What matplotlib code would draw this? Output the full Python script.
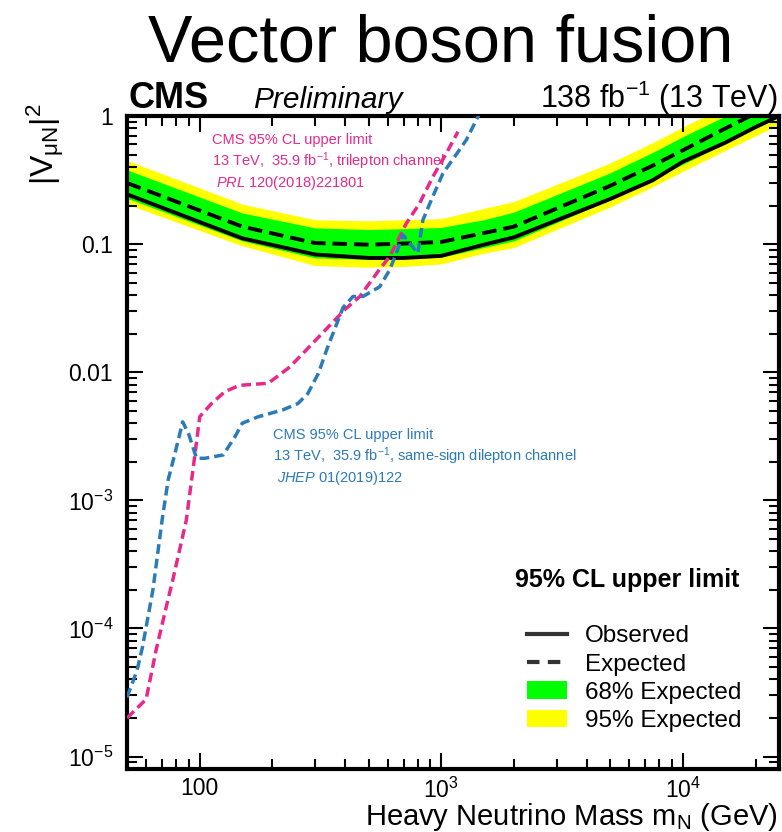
import matplotlib
matplotlib.use('Agg')
import matplotlib.pyplot as plt
from matplotlib.lines import Line2D
from matplotlib.patches import Patch
from matplotlib.ticker import LogLocator, NullFormatter

plt.rcParams['font.family'] = ['Liberation Sans', 'DejaVu Sans']
plt.rcParams['mathtext.fontset'] = 'custom'
plt.rcParams['mathtext.rm'] = 'Liberation Sans'
plt.rcParams['mathtext.it'] = 'Liberation Sans:italic'
plt.rcParams['mathtext.bf'] = 'Liberation Sans:bold'
plt.rcParams['lines.scale_dashes'] = False

# VBF limit on |V_muN|^2 vs heavy neutrino mass (GeV)
mass = [50, 150, 300, 500, 700, 1000, 1500, 2000, 5000, 7500, 10000, 15000, 20000, 25000]
observed = [0.245, 0.111, 0.083, 0.078, 0.078, 0.081, 0.099, 0.113, 0.225, 0.315, 0.44, 0.62, 0.82, 1.0]
expected = [0.30, 0.137, 0.102, 0.099, 0.101, 0.104, 0.122, 0.137, 0.285, 0.41, 0.54, 0.80, 1.05, 1.3]
band68_up = [0.38, 0.175, 0.134, 0.13, 0.132, 0.135, 0.155, 0.178, 0.36, 0.52, 0.69, 1.0, 1.3, 1.6]
band68_dn = [0.228, 0.106, 0.078, 0.076, 0.077, 0.079, 0.094, 0.106, 0.222, 0.32, 0.42, 0.61, 0.80, 0.98]
band95_up = [0.45, 0.205, 0.155, 0.152, 0.155, 0.158, 0.19, 0.215, 0.43, 0.62, 0.82, 1.2, 1.55, 1.9]
band95_dn = [0.205, 0.097, 0.068, 0.066, 0.067, 0.070, 0.085, 0.094, 0.195, 0.28, 0.37, 0.54, 0.70, 0.86]

# older 35.9 fb-1 results
tri_mass = [50, 60, 66, 74, 77, 88, 94, 100, 112, 127, 146, 192, 218, 236, 276, 400, 460, 550, 611, 672, 716, 813, 923, 1049, 1172]
tri_limit = [2.0e-5, 2.8e-5, 6.8e-5, 1.7e-4, 2.3e-4, 7.0e-4, 1.8e-3, 4.5e-3, 5.7e-3, 7.05e-3, 7.9e-3, 8.2e-3,
             9.8e-3, 0.011, 0.0149, 0.031, 0.039, 0.062, 0.080, 0.114, 0.145, 0.208, 0.336, 0.511, 0.754]
ss_mass = [50, 55, 58, 64, 70, 74, 79, 85, 90, 97, 105, 125, 140, 150, 175, 220, 255, 280, 310, 335, 392, 431,
           474, 556, 611, 651, 694, 800, 839, 909, 1016, 1136, 1269, 1396, 1500]
ss_limit = [2.9e-5, 4.7e-5, 7.2e-5, 2.0e-4, 7.2e-4, 1.44e-3, 2.33e-3, 4.1e-3, 3.3e-3, 2.13e-3, 2.13e-3, 2.26e-3,
            3.14e-3, 4.0e-3, 4.5e-3, 5.07e-3, 5.7e-3, 6.8e-3, 9.8e-3, 0.0149, 0.032, 0.039, 0.039, 0.0465,
            0.0628, 0.0848, 0.118, 0.0848, 0.154, 0.221, 0.357, 0.481, 0.65, 0.93, 1.22]

xticks = [100, 1000, 10000]
xticklabels = ['100', r'10$^{3}$', r'10$^{4}$']
yticks = [1e-5, 1e-4, 1e-3, 1e-2, 1e-1, 1]
yticklabels = [r'10$^{-5}$', r'10$^{-4}$', r'10$^{-3}$', '0.01', '0.1', '1']

PINK = '#e7298a'
BLUE = '#2b7bb9'

W, H = 782, 832
fig = plt.figure(figsize=(W / 100, H / 100), dpi=100)
ax = fig.add_axes([127 / W, 1 - 769 / H, (779 - 127) / W, (769 - 116) / H])

ax.fill_between(mass, band95_dn, band95_up, color='#ffff00', lw=0, zorder=1)
ax.fill_between(mass, band68_dn, band68_up, color='#00ff00', lw=0, zorder=2)
ax.plot(mass, observed, color='black', lw=2.8, zorder=3)
ax.plot(mass, expected, color='black', lw=2.8, dashes=(10.5, 5), zorder=3)
ax.plot(tri_mass, tri_limit, color=PINK, lw=2.5, dashes=(7, 3.6), zorder=4)
ax.plot(ss_mass, ss_limit, color=BLUE, lw=2.5, dashes=(7, 3.6), zorder=4)

ax.set_xscale('log')
ax.set_yscale('log')
ax.set_xlim(50, 25000)
ax.set_ylim(8e-6, 1)
ax.set_xticks(xticks, xticklabels)
ax.set_yticks(yticks, yticklabels)
ax.xaxis.set_minor_locator(LogLocator(base=10, subs=range(2, 10), numticks=20))
ax.yaxis.set_minor_locator(LogLocator(base=10, subs=range(2, 10), numticks=20))
ax.xaxis.set_minor_formatter(NullFormatter())
ax.yaxis.set_minor_formatter(NullFormatter())
ax.tick_params(which='both', direction='in', top=True, right=True, width=1.5, labelsize=16.5)
ax.tick_params(which='major', length=11.5)
ax.tick_params(which='minor', length=7)
ax.tick_params(axis='x', pad=6)
ax.tick_params(axis='y', pad=10)
for s in ax.spines.values():
    s.set_linewidth(3)

def fpos(x, y):
    return x / W, 1 - y / H

fig.text(*fpos(441, 62), 'Vector boson fusion', ha='center', va='baseline', fontsize=48)
fig.text(*fpos(128, 108), 'CMS', ha='left', va='baseline', fontsize=26, weight='bold')
fig.text(*fpos(253, 108), 'Preliminary', ha='left', va='baseline', fontsize=21.5, style='italic')
fig.text(*fpos(778, 108), r'138 fb$^{-1}$ (13 TeV)', ha='right', va='baseline', fontsize=22)

fig.text(*fpos(45, 103), r'$\mathregular{|V_{\mu N}|^{2}}$', rotation=90, ha='center', va='top', fontsize=23)
fig.text(*fpos(778, 817), r'Heavy Neutrino Mass m$_\mathregular{N}$ (GeV)', ha='right', va='center', fontsize=21)

tri_text = ['CMS 95% CL upper limit', r'13 TeV,  35.9 fb$^{-1}$, trilepton channel', r' $\mathit{PRL}$ 120(2018)221801']
for i, t in enumerate(tri_text):
    fig.text(*fpos(212, 140 + 21.5 * i), t, color=PINK, fontsize=10.5, va='center')
ss_text = ['CMS 95% CL upper limit', r'13 TeV,  35.9 fb$^{-1}$, same-sign dilepton channel', r' $\mathit{JHEP}$ 01(2019)122']
for i, t in enumerate(ss_text):
    fig.text(*fpos(273, 435 + 21.5 * i), t, color=BLUE, fontsize=10.5, va='center')

fig.text(*fpos(627, 580), '95% CL upper limit', ha='center', va='center', fontsize=18, weight='bold')
handles = [Line2D([], [], color='#333333', lw=3),
           Line2D([], [], color='#333333', lw=3, dashes=(9, 6)),
           Patch(facecolor='#00ff00', edgecolor='none'),
           Patch(facecolor='#ffff00', edgecolor='none')]
labels = ['Observed', 'Expected', '68% Expected', '95% Expected']
ax.legend(handles, labels, loc='upper left', bbox_to_anchor=fpos(527, 625), bbox_transform=fig.transFigure,
          frameon=False, fontsize=17.5, handlelength=1.65, handletextpad=0.75, labelspacing=0.24,
          borderpad=0, borderaxespad=0, handleheight=0.75)

fig.savefig('out.png', dpi=100)
